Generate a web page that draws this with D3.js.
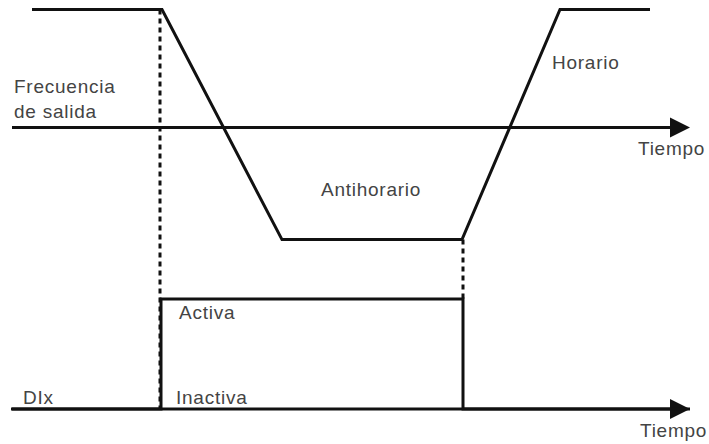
<!DOCTYPE html>
<html>
<head>
<meta charset="utf-8">
<script src="https://cdn.jsdelivr.net/npm/d3@7"></script>
<style>
  body { margin: 0; background: #fff; }
  text { font-family: "Liberation Sans", Arial, sans-serif; font-size: 19px; fill: #444; letter-spacing: 0.75px; }
</style>
</head>
<body>
<svg id="chart" width="709" height="444"></svg>
<script>
// time axis (arbitrary units) and the two signals
var freqTimes = [20, 150, 270, 450, 548, 638];
var freqValues = [1, 1, -0.95, -0.95, 1, 1];

var dixTimes = [0, 149, 149, 451, 451, 678];
var dixValues = [0, 0, 1, 1, 0, 0];

var axisEnd = 678;
var guideTimes = [148, 451];   // dotted guides

var labels = [
  {text: "Frecuencia", t: 2, panel: "freq", v: 0.29},
  {text: "de salida", t: 2, panel: "freq", v: 0.08},
  {text: "Horario", t: 540, panel: "freq", v: 0.5},
  {text: "Tiempo", t: 626, panel: "freq", v: -0.23},
  {text: "Antihorario", t: 309, panel: "freq", v: -0.58},
  {text: "Activa", t: 167, panel: "dix", v: 0.82},
  {text: "Inactiva", t: 164, panel: "dix", v: 0.05},
  {text: "DIx", t: 11, panel: "dix", v: 0.05},
  {text: "Tiempo", t: 628, panel: "dix", v: -0.25}
];

var svg = d3.select("#chart");

var x = d3.scaleLinear().domain([0, axisEnd]).range([12, 690]);
var yFreq = d3.scaleLinear().domain([-1, 1]).range([245.5, 9.5]);
var yDix = d3.scaleLinear().domain([0, 1]).range([409, 299]);

var line = function(ys) {
  return d3.line().x(function(d) { return x(d[0]); }).y(function(d) { return ys(d[1]); });
};

// dotted guides
svg.append("line")
  .attr("x1", x(guideTimes[0])).attr("x2", x(guideTimes[0]))
  .attr("y1", yFreq(1)).attr("y2", yDix(0))
  .attr("stroke", "#111").attr("stroke-width", 3).attr("stroke-dasharray", "5,4");
svg.append("line")
  .attr("x1", x(guideTimes[1])).attr("x2", x(guideTimes[1]))
  .attr("y1", yFreq(-0.95)).attr("y2", yDix(1))
  .attr("stroke", "#111").attr("stroke-width", 3).attr("stroke-dasharray", "5,4");

// time axes with arrow heads
function timeAxis(yPos, start) {
  svg.append("line")
    .attr("x1", x(start)).attr("x2", x(axisEnd) - 12)
    .attr("y1", yPos).attr("y2", yPos)
    .attr("stroke", "#111").attr("stroke-width", 3);
  var tip = x(axisEnd);
  svg.append("path")
    .attr("d", "M" + tip + "," + yPos + "L" + (tip - 20) + "," + (yPos - 10) + "L" + (tip - 20) + "," + (yPos + 10) + "Z")
    .attr("fill", "#111");
}
timeAxis(yFreq(0), 0);
timeAxis(yDix(0), -1);

// output frequency
svg.append("path")
  .datum(d3.zip(freqTimes, freqValues))
  .attr("d", line(yFreq))
  .attr("fill", "none").attr("stroke", "#111").attr("stroke-width", 3)
  .attr("stroke-linejoin", "miter");

// digital input
svg.append("path")
  .datum(d3.zip(dixTimes, dixValues))
  .attr("d", line(yDix))
  .attr("fill", "none").attr("stroke", "#111").attr("stroke-width", 3)
  .attr("stroke-linejoin", "miter");

// labels
svg.selectAll("text.lbl")
  .data(labels)
  .enter()
  .append("text")
  .attr("class", "lbl")
  .attr("x", function(d) { return x(d.t); })
  .attr("y", function(d) { return d.panel === "freq" ? yFreq(d.v) : yDix(d.v); })
  .text(function(d) { return d.text; });
</script>
</body>
</html>
